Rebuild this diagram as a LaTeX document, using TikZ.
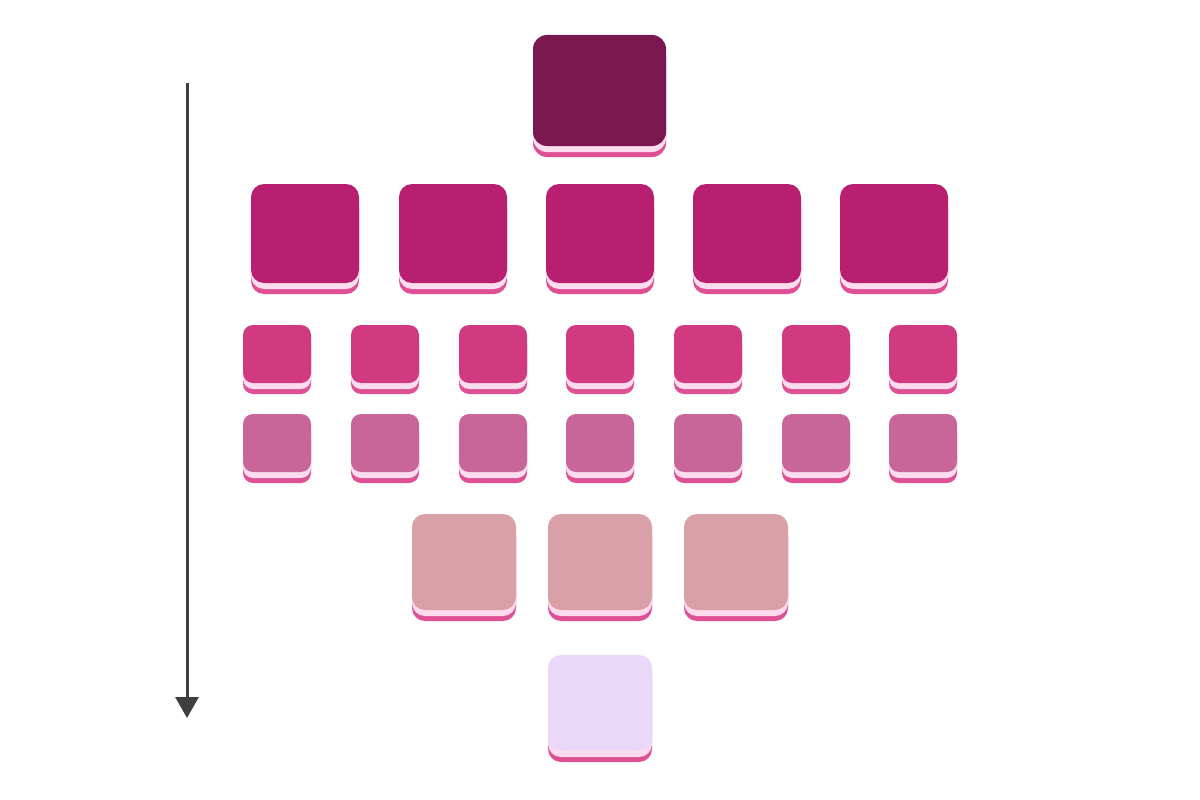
\documentclass[tikz,border=0pt]{standalone}
\usetikzlibrary{arrows.meta}
\definecolor{cTop}{HTML}{7A1650}
\definecolor{cRowA}{HTML}{B91F70}
\definecolor{cRowB}{HTML}{D13A80}
\definecolor{cRowC}{HTML}{C86699}
\definecolor{cRowD}{HTML}{D9A0A8}
\definecolor{cRowE}{HTML}{EAD8F8}
\definecolor{cBase}{HTML}{DE4F93}
\definecolor{cLight}{HTML}{FCDCEE}
\definecolor{cArrow}{HTML}{3F3F3F}
\tikzset{
  tilebase/.style={fill=cBase, draw=none},
  tilelight/.style={fill=cLight, draw=none},
  flowarrow/.style={draw=cArrow, line width=3pt, -{Triangle[length=21pt,width=23pt]}}
}
% \tile{name}{x1}{y1}{x2}{y2}{color}{radius}
\newcommand\tile[7]{%
  \fill[tilebase, rounded corners=#7] (#2,#3+10) rectangle (#4,#5);
  \fill[tilelight, rounded corners=#7] (#2,#3+5) rectangle (#4,#5-5);
  \fill[rounded corners=#7, fill=#6] (#2,#3) rectangle (#4,#5-11);
  \coordinate (#1) at ({(#2+#4)/2},{(#3+#5)/2});
}
\begin{document}
\begin{tikzpicture}[x=1pt,y=-1pt]
\useasboundingbox[fill=white] (0,0) rectangle (1200,800);
% top
\tile{t0}{533}{35}{666}{157}{cTop}{14pt}
% row 2
\foreach \i/\x in {1/251,2/399,3/546,4/693,5/840}{
  \tile{a\i}{\x}{184}{\x+108}{294}{cRowA}{13pt}
}
% row 3 and 4
\foreach \i/\x in {1/243,2/351,3/459,4/566,5/674,6/782,7/889}{
  \tile{b\i}{\x}{325}{\x+68}{394}{cRowB}{10pt}
  \tile{c\i}{\x}{414}{\x+68}{483}{cRowC}{10pt}
}
% row 5
\foreach \i/\x in {1/412,2/548,3/684}{
  \tile{d\i}{\x}{514}{\x+104}{621}{cRowD}{13pt}
}
% row 6
\tile{e1}{548}{655}{652}{762}{cRowE}{13pt}
% arrow
\coordinate (arrowStart) at (187,83);
\coordinate (arrowEnd) at (187,718);
\draw[flowarrow] (arrowStart) -- (arrowEnd);
\end{tikzpicture}
\end{document}
